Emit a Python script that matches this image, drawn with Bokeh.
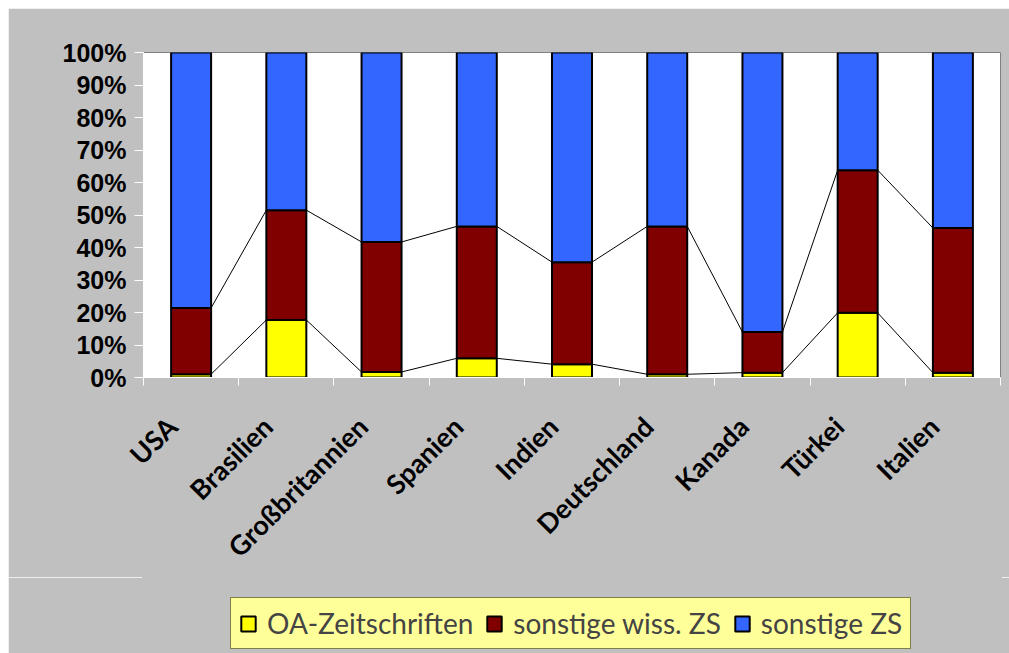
from bokeh.plotting import figure
from bokeh.layouts import column
from bokeh.models import (ColumnDataSource, FixedTicker, Legend, LegendItem,
                          PrintfTickFormatter, Range1d)
from bokeh.embed import file_html
from bokeh.resources import INLINE

# ---- data (percent shares) ----
categories = ["USA", "Brasilien", "Großbritannien", "Spanien", "Indien",
              "Deutschland", "Kanada", "Türkei", "Italien"]
oa_zeitschriften = [1.0, 17.7, 1.7, 5.9, 4.1, 1.0, 1.5, 19.9, 1.5]
sonstige_wiss_zs = [20.4, 33.8, 40.0, 40.6, 31.4, 45.5, 12.5, 43.9, 44.5]
sonstige_zs = [78.6, 48.5, 58.3, 53.5, 64.5, 53.5, 86.0, 36.2, 54.0]
series_names = ["OA-Zeitschriften", "sonstige wiss. ZS", "sonstige ZS"]
colors = ["#FFFF00", "#800000", "#3366FF"]
y_ticks = [0, 10, 20, 30, 40, 50, 60, 70, 80, 90, 100]

GRAY = "#C0C0C0"
n = len(categories)
xs = [i + 0.5 for i in range(n)]
BAR_W = 0.42
LABEL_SHIFT = 0.2   # rotated category labels sit slightly left of bar centre

source = ColumnDataSource(dict(x=xs, oa=oa_zeitschriften,
                               wiss=sonstige_wiss_zs, sonst=sonstige_zs))

p = figure(frame_width=857, frame_height=325, output_backend="svg",
           toolbar_location=None,
           x_range=Range1d(0, n), y_range=Range1d(0, 100),
           min_border_left=135, min_border_top=44, min_border_right=9,
           min_border_bottom=200)
p.margin = (8, 0, 0, 8)
p.border_fill_color = GRAY
p.background_fill_color = "white"
p.outline_line_color = "#808080"
p.grid.visible = False

rs = p.vbar_stack(["oa", "wiss", "sonst"], x="x", width=BAR_W, source=source,
                  fill_color=colors, line_color="black", line_width=2)

# series lines between stacked bars
cum1 = list(oa_zeitschriften)
cum2 = [a + b for a, b in zip(oa_zeitschriften, sonstige_wiss_zs)]
for cum in (cum1, cum2):
    p.segment(x0=[xs[i] + BAR_W / 2 for i in range(n - 1)],
              x1=[xs[i + 1] - BAR_W / 2 for i in range(n - 1)],
              y0=cum[:-1], y1=cum[1:], line_color="black", line_width=1)

# x axis
label_pos = [x - LABEL_SHIFT for x in xs]
xa = p.xaxis[0]
xa.ticker = FixedTicker(ticks=label_pos, minor_ticks=list(range(n + 1)))
xa.major_label_overrides = {x: c for x, c in zip(label_pos, categories)}
xa.major_label_orientation = 0.785398
xa.major_tick_line_color = None
xa.minor_tick_line_color = "white"
xa.minor_tick_out = 8
xa.minor_tick_in = 0
xa.axis_line_color = "white"
xa.major_label_text_font = "Lato"
xa.major_label_text_font_style = "bold"
xa.major_label_text_font_size = "27px"
xa.major_label_text_color = "black"
xa.major_label_standoff = 36

# y axis
ya = p.yaxis[0]
ya.ticker = FixedTicker(ticks=y_ticks, minor_ticks=[])
ya.formatter = PrintfTickFormatter(format="%d%%")
ya.major_tick_line_color = "white"
ya.major_tick_out = 9
ya.major_tick_in = 0
ya.axis_line_color = "white"
ya.major_label_text_font = "Liberation Sans"
ya.major_label_text_font_style = "bold"
ya.major_label_text_font_size = "25px"
ya.major_label_text_color = "black"
ya.major_label_standoff = 8

# legend strip below the chart (same grey chart area, same frame columns)
leg_fig = figure(frame_width=857, frame_height=76, output_backend="svg",
                 toolbar_location=None, x_axis_location=None,
                 y_axis_location=None, x_range=Range1d(0, n),
                 y_range=Range1d(0, 100),
                 min_border_left=135, min_border_right=9,
                 min_border_top=0, min_border_bottom=0)
leg_fig.margin = (0, 0, 0, 8)
leg_fig.border_fill_color = GRAY
leg_fig.background_fill_color = GRAY
leg_fig.outline_line_color = GRAY
leg_fig.outline_line_width = 3
leg_fig.grid.visible = False
key_rs = leg_fig.vbar_stack(["oa", "wiss", "sonst"], x="x", width=BAR_W,
                            source=source, fill_color=colors,
                            line_color="black", line_width=2)
for r in key_rs:
    r.visible = False   # only used as legend keys

legend = Legend(items=[LegendItem(label=nm, renderers=[r])
                       for nm, r in zip(series_names, key_rs)],
                orientation="horizontal", location=(87, 4),
                background_fill_color="#FFFF99", background_fill_alpha=1,
                border_line_color="black", border_line_width=1,
                label_text_font="Lato", label_text_font_size="28px",
                glyph_width=18, glyph_height=19, label_standoff=10,
                spacing=12, padding=8, margin=0)
leg_fig.add_layout(legend, "center")

layout = column(p, leg_fig, spacing=0)
open("out.html", "w").write(file_html(layout, INLINE))
